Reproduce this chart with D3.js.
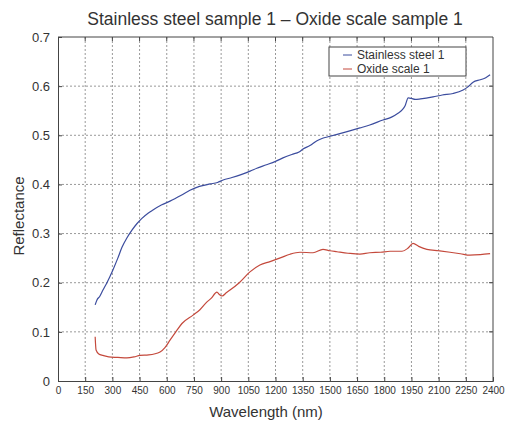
<!DOCTYPE html>
<html>
<head>
<meta charset="utf-8">
<script src="https://cdn.jsdelivr.net/npm/d3@7"></script>
<style>
  body { margin: 0; background: #fff; }
  text { font-family: "Liberation Sans", Arial, sans-serif; fill: #333; }
</style>
</head>
<body>
<div id="chart"></div>
<script>
// wavelength (nm) / reflectance
var steelWl  = [205, 215, 230, 248, 270, 303, 330, 353, 380, 408, 435, 463, 495, 524, 570, 618, 680, 728, 780, 840, 880, 911, 960, 1010, 1060, 1097, 1150, 1200, 1241, 1290, 1330, 1352, 1390, 1429, 1460, 1490, 1540, 1600, 1666, 1720, 1793, 1840, 1876, 1900, 1915, 1932, 1950, 1970, 2000, 2069, 2120, 2180, 2235, 2260, 2290, 2330, 2360, 2384];
var steelVal = [0.155, 0.165, 0.172, 0.185, 0.200, 0.226, 0.250, 0.272, 0.291, 0.307, 0.320, 0.331, 0.341, 0.348, 0.358, 0.366, 0.378, 0.388, 0.396, 0.401, 0.404, 0.409, 0.414, 0.420, 0.427, 0.433, 0.440, 0.447, 0.454, 0.461, 0.466, 0.472, 0.479, 0.489, 0.494, 0.497, 0.502, 0.508, 0.515, 0.521, 0.531, 0.537, 0.545, 0.552, 0.560, 0.576, 0.575, 0.573, 0.574, 0.578, 0.582, 0.585, 0.592, 0.598, 0.608, 0.613, 0.617, 0.623];

var oxideWl  = [205, 210, 225, 248, 280, 330, 380, 420, 452, 500, 563, 590, 618, 650, 684, 745, 783, 822, 850, 866, 877, 890, 905, 930, 949, 1000, 1059, 1114, 1170, 1230, 1280, 1335, 1407, 1462, 1500, 1539, 1600, 1666, 1720, 1780, 1832, 1898, 1930, 1959, 1990, 2035, 2100, 2163, 2220, 2273, 2330, 2384];
var oxideVal = [0.090, 0.063, 0.055, 0.052, 0.049, 0.048, 0.047, 0.049, 0.052, 0.053, 0.059, 0.068, 0.083, 0.100, 0.117, 0.134, 0.145, 0.161, 0.170, 0.178, 0.181, 0.176, 0.173, 0.180, 0.185, 0.200, 0.222, 0.236, 0.243, 0.251, 0.258, 0.262, 0.261, 0.268, 0.265, 0.263, 0.260, 0.258, 0.261, 0.262, 0.264, 0.264, 0.270, 0.280, 0.274, 0.268, 0.265, 0.262, 0.259, 0.256, 0.257, 0.259];

var xTicks = d3.range(0, 2401, 150);
var yTicks = [0, 0.1, 0.2, 0.3, 0.4, 0.5, 0.6, 0.7];
var seriesNames = ["Stainless steel 1", "Oxide scale 1"];
var seriesColors = ["#3b4c9e", "#c4493c"];

var margin = {top: 37, right: 17, bottom: 44, left: 58},
    width = 510 - margin.left - margin.right,
    height = 425 - margin.top - margin.bottom;

var x = d3.scaleLinear().domain([0, 2400]).range([0, width]);
var y = d3.scaleLinear().domain([0, 0.7]).range([height, 0]);

var root = d3.select("#chart").append("svg")
    .attr("width", 510)
    .attr("height", 425);

var svg = root.append("g")
    .attr("transform", "translate(" + margin.left + "," + margin.top + ")");

// dotted grid
svg.append("g").selectAll("line")
    .data(xTicks.slice(1, -1))
    .enter().append("line")
    .attr("x1", function(d) { return x(d); })
    .attr("x2", function(d) { return x(d); })
    .attr("y1", 0).attr("y2", height)
    .style("stroke", "#999").style("stroke-dasharray", "2,2").style("stroke-width", 1);

svg.append("g").selectAll("line")
    .data(yTicks.slice(1, -1))
    .enter().append("line")
    .attr("y1", function(d) { return y(d); })
    .attr("y2", function(d) { return y(d); })
    .attr("x1", 0).attr("x2", width)
    .style("stroke", "#999").style("stroke-dasharray", "2,2").style("stroke-width", 1);

// lines
var line = d3.line()
    .curve(d3.curveMonotoneX)
    .x(function(d) { return x(d[0]); })
    .y(function(d) { return y(d[1]); });

var steel = steelWl.map(function(w, i) { return [w, steelVal[i]]; });
var oxide = oxideWl.map(function(w, i) { return [w, oxideVal[i]]; });

svg.append("path").datum(steel)
    .attr("d", line)
    .style("fill", "none").style("stroke", seriesColors[0]).style("stroke-width", 1.2);

svg.append("path").datum(oxide)
    .attr("d", line)
    .style("fill", "none").style("stroke", seriesColors[1]).style("stroke-width", 1.2);

// axes (ticks inside, like the original)
var xAxis = svg.append("g")
    .attr("transform", "translate(0," + height + ")")
    .call(d3.axisBottom(x).tickValues(xTicks).tickSize(-4).tickPadding(6).tickFormat(d3.format("d")));
xAxis.selectAll("text").style("font-size", "10px");

var yAxis = svg.append("g")
    .call(d3.axisLeft(y).tickValues(yTicks).tickSize(-4).tickPadding(8)
      .tickFormat(function(d) { return d === 0 ? "0" : d3.format(".1f")(d); }));
yAxis.selectAll("text").style("font-size", "13px");

svg.selectAll(".domain").style("stroke", "#444");
svg.selectAll(".tick line").style("stroke", "#444");

// box top and right
svg.append("line").attr("x1", 0).attr("x2", width).attr("y1", 0).attr("y2", 0).style("stroke", "#444");
svg.append("line").attr("x1", width).attr("x2", width).attr("y1", 0).attr("y2", height).style("stroke", "#444");
svg.append("g").selectAll("line").data(xTicks.slice(1, -1)).enter().append("line")
    .attr("x1", function(d) { return x(d); }).attr("x2", function(d) { return x(d); })
    .attr("y1", 0).attr("y2", 4).style("stroke", "#444");
svg.append("g").selectAll("line").data(yTicks.slice(1, -1)).enter().append("line")
    .attr("y1", function(d) { return y(d); }).attr("y2", function(d) { return y(d); })
    .attr("x1", width).attr("x2", width - 4).style("stroke", "#444");

// legend
var legend = svg.append("g").attr("transform", "translate(271,10)");
legend.append("rect")
    .attr("width", 137).attr("height", 29)
    .style("fill", "#fff").style("stroke", "#444");
seriesNames.forEach(function(name, i) {
  legend.append("line")
      .attr("x1", 14).attr("x2", 23)
      .attr("y1", 8 + i * 14).attr("y2", 8 + i * 14)
      .style("stroke", seriesColors[i]).style("stroke-width", 1);
  legend.append("text")
      .attr("x", 28).attr("y", 12 + i * 14)
      .style("font-size", "12px")
      .text(name);
});

// titles
root.append("text")
    .attr("x", 275).attr("y", 25)
    .attr("text-anchor", "middle")
    .style("font-size", "17.5px")
    .text("Stainless steel sample 1 \u2013 Oxide scale sample 1");

root.append("text")
    .attr("x", 266).attr("y", 417)
    .attr("text-anchor", "middle")
    .style("font-size", "15px")
    .text("Wavelength (nm)");

root.append("text")
    .attr("transform", "translate(24,216) rotate(-90)")
    .attr("text-anchor", "middle")
    .style("font-size", "15px")
    .text("Reflectance");
</script>
</body>
</html>
